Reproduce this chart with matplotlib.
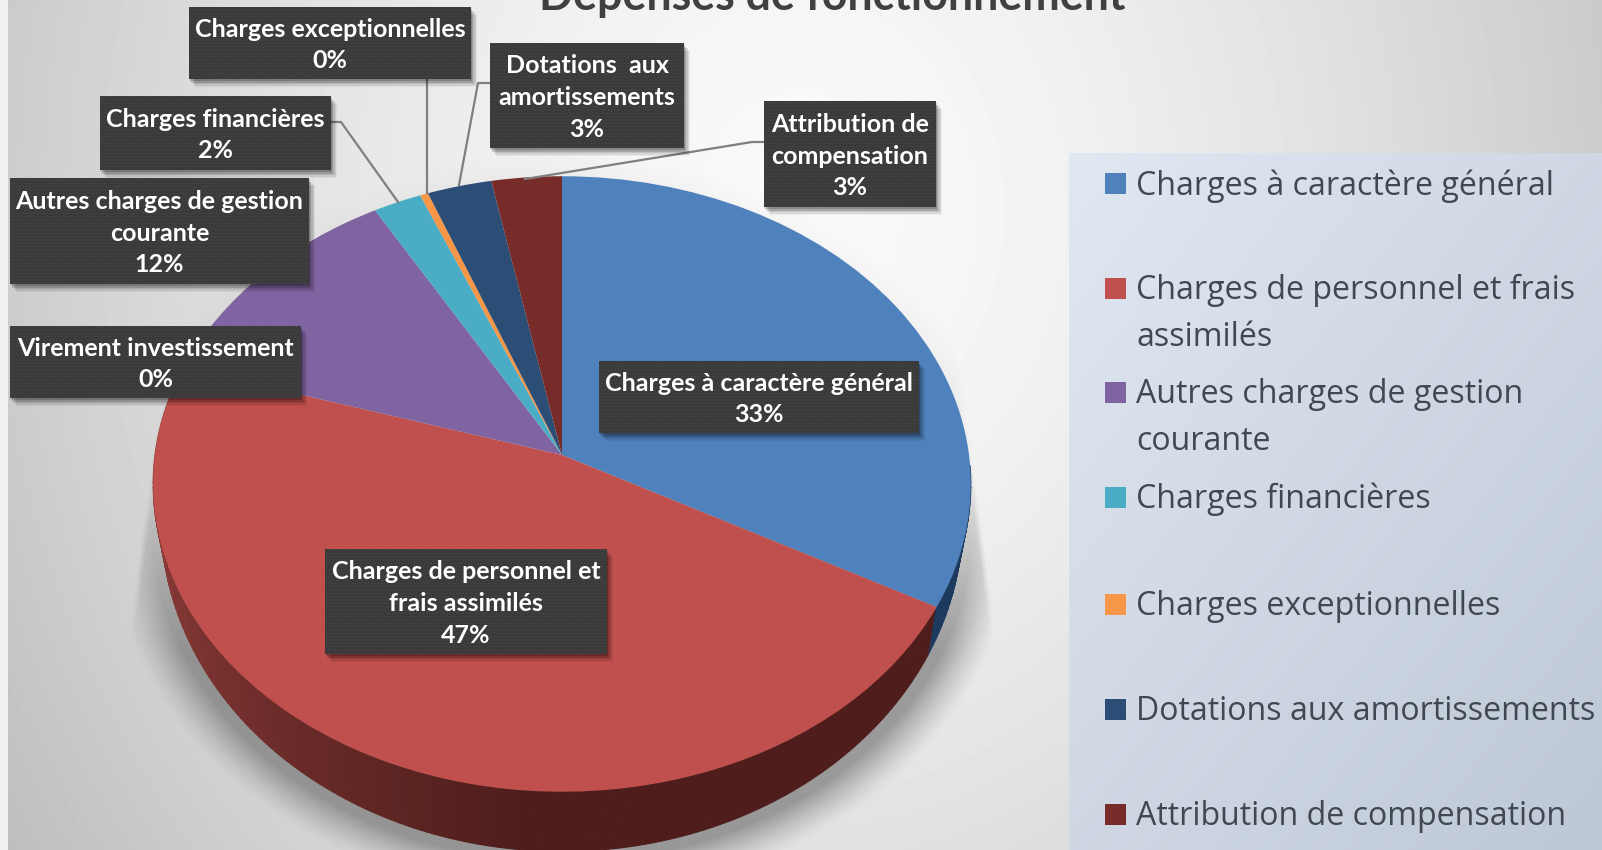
import numpy as np
import matplotlib
matplotlib.use("Agg")
import matplotlib.pyplot as plt
from matplotlib.transforms import Transform
from matplotlib.patches import Rectangle
from matplotlib.collections import PolyCollection

# ---------- data ----------
categories = ["Charges à caractère général", "Charges de personnel et frais assimilés",
              "Virement investissement", "Autres charges de gestion courante",
              "Charges financières", "Charges exceptionnelles",
              "Dotations aux amortissements", "Attribution de compensation"]
values = [33.0, 47.0, 0.0, 12.0, 2.1, 0.35, 2.8, 3.05]
percent_labels = ["33%", "47%", "0%", "12%", "2%", "0%", "3%", "3%"]
box_titles = ["Charges à caractère général", "Charges de personnel et\nfrais assimilés",
              "Virement investissement", "Autres charges de gestion\ncourante",
              "Charges financières", "Charges exceptionnelles",
              "Dotations  aux\namortissements", "Attribution de\ncompensation"]
legend_labels = ["Charges à caractère général", "Charges de personnel et frais\nassimilés",
                 "Autres charges de gestion\ncourante", "Charges financières",
                 "Charges exceptionnelles", "Dotations aux amortissements",
                 "Attribution de compensation"]
legend_index = [0, 1, 3, 4, 5, 6, 7]
colors = ["#4F81BD", "#C0504D", "#9BBB59", "#8064A2", "#4BACC6", "#F79646", "#2C4D75", "#772C2A"]
title = "Dépenses de fonctionnement"

# ---------- layout (pixels) ----------
W, H = 1602, 850
CX, CY, A, B, K = 562.0, 455.0, 407.0, 305.0, 0.0941
boxes = {0: (599, 361, 919, 433), 1: (325, 549, 607, 654), 2: (10, 326, 301, 398),
         3: (10, 178, 309, 284), 4: (100, 96, 331, 170), 5: (189, 7, 471, 79),
         6: (490, 43, 684, 148), 7: (764, 101, 936, 207)}
leaders = {4: [(331, 122), (341, 122), (398, 202)],
           5: [(427, 79), (427, 193)],
           6: [(490, 83), (478, 83), (459, 185)],
           7: [(763, 142), (752, 142), (525, 179)]}
legend_y = [183, 288, 392, 497, 604, 709, 814]


class Perspective(Transform):
    input_dims = output_dims = 2
    is_separable = False
    has_inverse = False

    def __init__(self, dy=0.0, sx=1.0, sy=1.0):
        super().__init__()
        self.dy, self.sx, self.sy = dy, sx, sy

    def transform_non_affine(self, v):
        v = np.asarray(v, float)
        w = 1 + K * v[:, 1]
        return np.c_[CX + self.sx * A * v[:, 0] / w,
                     CY + self.dy - self.sy * B * v[:, 1] / w]


fig = plt.figure(figsize=(W / 100, H / 100), dpi=100)
ax = fig.add_axes([0, 0, 1, 1])

# ---------- background ----------
yy, xx = np.mgrid[0:H, 0:W]
d = np.hypot((xx - 800) / 750, (yy - 210) / 900)
bg = np.clip(250 - 42 * d ** 1.5, 190, 252) / 255
ax.imshow(bg, cmap="gray", vmin=0, vmax=1, extent=(0, W, H, 0), aspect="auto", zorder=0)
ax.add_patch(Rectangle((0, 0), 8, H, fc="#f0f0f0", ec="none", zorder=0.5))

# soft shadow behind the pie
e = np.hypot((xx - CX) / 455, (yy - 525) / 373)
left_edge = 155 - (yy - 430) * 27 / 207
right_edge = 973 + (yy - 463) * 24 / 184
mask = np.clip((xx - left_edge) / 6, 0, 1) * np.clip((right_edge - xx) / 6, 0, 1)
sh = np.clip((1.0 - e) / 0.10, 0, 1) ** 1.3 * np.clip((yy - 440) / 210, 0.12, 1) * mask
rgba = np.zeros((H, W, 4))
rgba[..., :3] = 0.42
rgba[..., 3] = 0.62 * sh
ax.imshow(rgba, extent=(0, W, H, 0), aspect="auto", zorder=1)

# ---------- pie ----------
wedges, _ = ax.pie(values, colors=colors, startangle=90, counterclock=False, radius=1,
                   frame=False, wedgeprops=dict(linewidth=0))
ax.set_aspect("auto")
ax.set_xlim(0, W)
ax.set_ylim(H, 0)
ax.axis("off")
top = Perspective()
for wd in wedges:
    wd.set_transform(top + ax.transData)
    wd.set_zorder(3)
    wd.set_clip_on(False)

# side wall
total = sum(values)
blue_end = values[0] / total * 360
th = np.radians(np.arange(92, 285.5, 1.0))
bot = Perspective(dy=34, sx=0.98, sy=1.0765)
tp = top.transform(np.c_[np.sin(th), np.cos(th)])
bp = bot.transform(np.c_[np.sin(th), np.cos(th)])
verts, fc = [], []
c_dark, c_light = np.array([0x4f, 0x1e, 0x1c]) / 255, np.array([0x94, 0x40, 0x3d]) / 255
for i in range(len(th) - 1):
    verts.append([tp[i], tp[i + 1], bp[i + 1], bp[i]])
    deg = np.degrees(th[i])
    if deg < blue_end:
        fc.append("#1d3a5e")
    else:
        t = np.clip((deg - 185) / 85, 0, 1)
        fc.append(tuple(c_dark + (c_light - c_dark) * t))
ax.add_collection(PolyCollection(verts, facecolors=fc, edgecolors=fc, linewidths=0.8, zorder=2))

# ---------- leaders ----------
for pts in leaders.values():
    p = np.array(pts)
    ax.plot(p[:, 0], p[:, 1], color="#7f7f7f", lw=1.6, zorder=4, solid_joinstyle="round")

# ---------- label boxes ----------
plt.rcParams["hatch.linewidth"] = 0.6
for i, (x0, y0, x1, y1) in boxes.items():
    for off, al in ((8, 0.05), (6.5, 0.07), (5, 0.1), (3.5, 0.14), (2, 0.18)):
        ax.add_patch(Rectangle((x0 + off * 0.7, y0 + off), x1 - x0, y1 - y0, fc="black",
                               ec="none", alpha=al, zorder=5))
    ax.add_patch(Rectangle((x0, y0), x1 - x0, y1 - y0, fc="#3a3a3a", ec="#474747",
                           lw=0, hatch=".....", zorder=6))
    lines = box_titles[i] + "\n" + percent_labels[i]
    ax.text((x0 + x1) / 2, (y0 + y1) / 2 + 2, lines, color="white", ha="center", va="center",
            family="Lato", weight="bold", fontsize=18, linespacing=1.46, zorder=7)

# ---------- legend panel ----------
gy, gx = np.mgrid[0:H - 153, 0:W - 1069]
g = (gx / (W - 1069) + gy / (H - 153)) / 2
panel = np.zeros(g.shape + (3,))
for c, (a, b) in enumerate(((224, 190), (232, 199), (242, 213))):
    panel[..., c] = (a + (b - a) * g) / 255
ax.imshow(panel, extent=(1069, W, H, 153), aspect="auto", zorder=8)
ax.set_xlim(0, W)
ax.set_ylim(H, 0)
for lab, idx, y in zip(legend_labels, legend_index, legend_y):
    ax.add_patch(Rectangle((1105, y - 10.5), 21, 21, fc=colors[idx], ec="none", zorder=9))
    ax.text(1136, y - 14, lab, color="#3f4853", ha="left", va="top", family="Open Sans",
            fontsize=23.1, linespacing=1.55, zorder=9)

# ---------- title ----------
ax.text(832, 10, title, color="#404040", ha="center", va="baseline", family="Lato",
        weight="bold", fontsize=32.2, zorder=9, clip_on=False)

fig.savefig("out.png", dpi=100)
